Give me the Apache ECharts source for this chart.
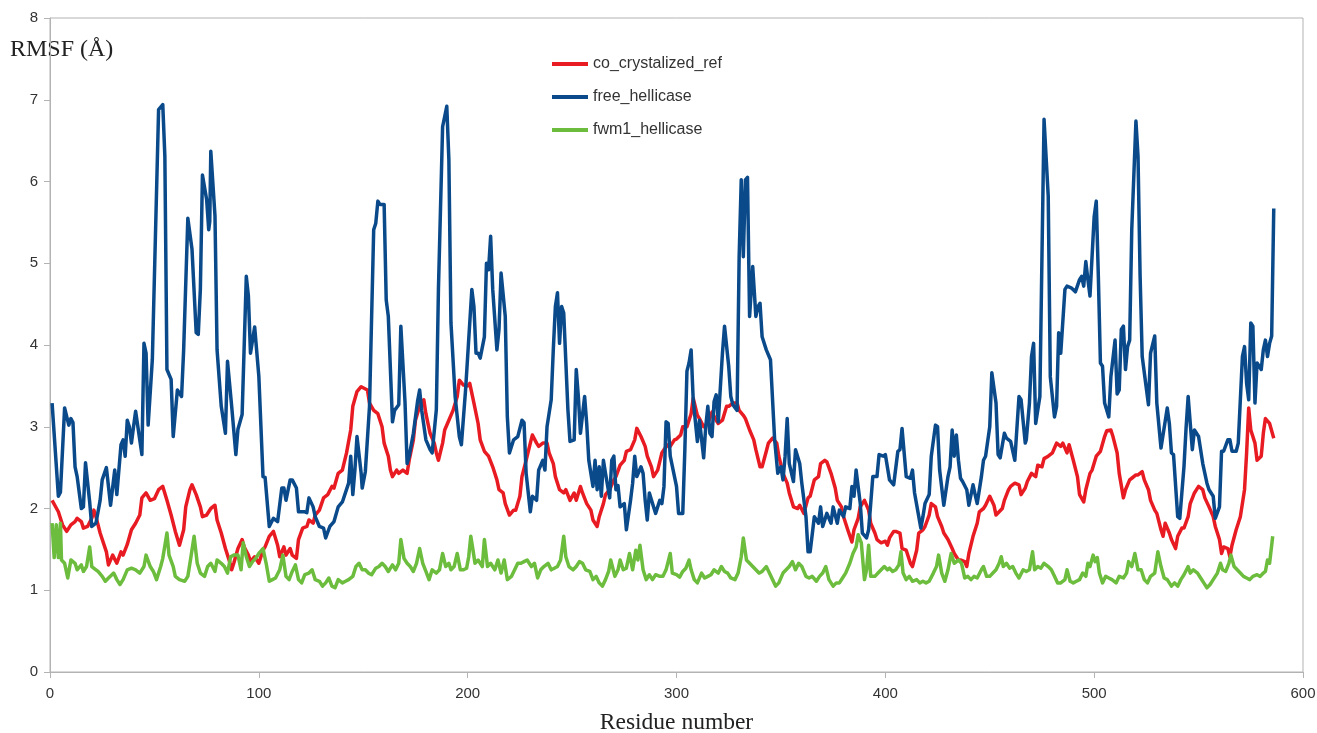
<!DOCTYPE html>
<html>
<head>
<meta charset="utf-8">
<title>RMSF per residue</title>
<script src="https://cdn.jsdelivr.net/npm/echarts@6/dist/echarts.min.js"></script>
<style>
  html, body { margin: 0; padding: 0; background: #fff; }
  #chart { width: 1317px; height: 733px; }
</style>
</head>
<body>
<div id="chart"></div>
<script>
// residue number vs RMSF (Å)
const seriesNames = ['co_crystalized_ref', 'free_hellicase', 'fwm1_hellicase'];
const xTicks = [0, 100, 200, 300, 400, 500, 600];
const yTicks = [0, 1, 2, 3, 4, 5, 6, 7, 8];

const coCrystalizedRef = [
  [1,2.1],[4,1.96],[6,1.8],[8,1.72],[10,1.8],[12,1.84],[13,1.88],[15,1.84],[16,1.76],[18,1.78],[20,1.88],[21,1.98],[22,1.9],[24,1.7],[27,1.47],[28,1.31],[30,1.43],[32,1.33],[34,1.47],[35,1.43],[37,1.56],[39,1.74],[41,1.82],[43,1.92],[44,2.13],[46,2.19],[48,2.1],[50,2.12],[52,2.23],[54,2.27],[56,2.1],[58,1.92],[60,1.72],[62,1.55],[64,1.74],[65,2.02],[67,2.23],[68,2.29],[70,2.17],[72,2.02],[73,1.9],[75,1.92],[77,2.0],[79,2.04],[80,1.86],[82,1.7],[84,1.51],[86,1.35],[87,1.25],[88,1.33],[90,1.51],[92,1.62],[93,1.53],[95,1.43],[96,1.35],[98,1.41],[100,1.33],
  [102,1.49],[103,1.53],[105,1.66],[107,1.72],[109,1.55],[110,1.41],[112,1.53],[113,1.43],[115,1.51],[116,1.43],[118,1.39],[119,1.62],[121,1.76],[123,1.78],[124,1.86],[126,1.82],[127,1.92],[129,1.98],[131,2.13],[133,2.17],[135,2.27],[136,2.25],[138,2.43],[140,2.47],[142,2.68],[144,2.96],[145,3.25],[147,3.43],[149,3.49],[152,3.45],[153,3.29],[155,3.2],[157,3.16],[159,3.0],[160,2.8],[162,2.64],[163,2.47],[164,2.39],[166,2.47],[167,2.43],[169,2.47],[171,2.43],[172,2.59],[174,2.84],[175,3.08],[177,3.25],[179,3.33],[180,3.16],[182,2.92],[184,2.8],[185,2.68],[186,2.59],[188,2.8],[189,2.96],[191,3.08],[193,3.2],[195,3.37],[196,3.57],[198,3.51],[200,3.5],
  [201,3.53],[203,3.29],[205,3.04],[206,2.84],[208,2.7],[210,2.64],[212,2.51],[214,2.35],[215,2.23],[217,2.19],[218,2.06],[220,1.92],[222,1.98],[223,1.98],[225,2.15],[226,2.39],[228,2.59],[230,2.8],[231,2.9],[233,2.8],[234,2.76],[236,2.8],[238,2.8],[239,2.68],[241,2.55],[242,2.39],[244,2.23],[246,2.19],[247,2.23],[249,2.1],[251,2.19],[252,2.1],[254,2.27],[255,2.19],[257,2.06],[259,1.98],[260,1.86],[262,1.78],[263,1.9],[265,2.06],[266,2.17],[268,2.23],[270,2.35],[271,2.39],[273,2.53],[275,2.59],[276,2.7],[278,2.72],[280,2.84],[281,2.98],[283,2.88],[285,2.76],[286,2.64],[288,2.51],[289,2.39],[291,2.47],[293,2.68],[294,2.72],[296,2.78],[297,2.76],[299,2.84],[300,2.85],
  [302,2.9],[303,3.0],[305,3.0],[307,3.16],[308,3.35],[310,3.14],[311,3.1],[313,3.0],[315,3.04],[317,3.18],[319,3.08],[320,3.04],[322,3.08],[324,3.25],[325,3.25],[327,3.29],[329,3.29],[330,3.2],[332,3.14],[333,3.1],[335,2.96],[337,2.84],[338,2.72],[340,2.51],[341,2.51],[343,2.7],[344,2.8],[346,2.86],[348,2.8],[349,2.64],[351,2.43],[353,2.31],[354,2.19],[356,2.02],[358,2.0],[359,2.04],[361,1.94],[363,2.13],[364,2.15],[366,2.35],[368,2.39],[369,2.55],[371,2.59],[372,2.57],[374,2.43],[376,2.25],[377,2.1],[379,2.02],[380,1.9],[382,1.74],[384,1.59],[385,1.74],[387,1.88],[388,2.02],[390,2.1],[392,1.98],[393,1.82],[395,1.7],[396,1.62],[398,1.58],[400,1.6],
  [401,1.55],[402,1.64],[404,1.72],[405,1.72],[407,1.7],[408,1.51],[410,1.49],[412,1.33],[413,1.29],[415,1.49],[416,1.7],[418,1.74],[419,1.78],[421,1.92],[422,2.06],[424,2.02],[425,1.9],[427,1.78],[428,1.7],[430,1.62],[432,1.51],[433,1.45],[435,1.37],[436,1.37],[438,1.35],[439,1.29],[440,1.45],[442,1.66],[444,1.82],[445,1.96],[447,2.0],[448,2.04],[450,2.15],[452,2.04],[453,1.92],[456,2.0],[457,2.1],[459,2.23],[460,2.27],[462,2.31],[464,2.29],[465,2.17],[467,2.25],[468,2.33],[470,2.43],[472,2.39],[473,2.53],[475,2.51],[476,2.61],[478,2.64],[480,2.68],[481,2.74],[482,2.8],[484,2.76],[485,2.8],[487,2.68],[488,2.78],[490,2.59],[492,2.39],[493,2.17],[495,2.08],[496,2.23],[498,2.43],[499,2.47],
  [501,2.64],[503,2.7],[505,2.88],[506,2.95],[508,2.96],[509,2.88],[511,2.68],[512,2.43],[514,2.13],[515,2.23],[517,2.35],[518,2.37],[520,2.41],[521,2.41],[523,2.45],[524,2.35],[526,2.23],[527,2.1],[529,1.98],[530,1.94],[532,1.74],[533,1.66],[534,1.82],[536,1.7],[537,1.62],[539,1.51],[540,1.66],[542,1.76],[543,1.76],[545,1.9],[546,2.06],[548,2.19],[550,2.27],[552,2.23],[553,2.13],[555,2.02],[557,1.9],[558,1.78],[560,1.62],[561,1.45],[562,1.53],[564,1.51],[565,1.41],[566,1.55],[568,1.74],[570,1.9],[572,2.23],[573,2.68],[574,3.23],[575,2.96],[577,2.8],[578,2.59],[580,2.64],[581,2.92],[582,3.1],[584,3.04],[586,2.86]
];

const freeHellicase = [
  [1,3.29],[4,2.15],[5,2.2],[7,3.23],[9,3.02],[10,3.1],[11,3.05],[12,2.51],[13,2.39],[15,2.0],[16,2.02],[17,2.56],[19,2.08],[20,1.78],[22,1.82],[24,2.1],[25,2.35],[27,2.5],[29,2.04],[31,2.47],[32,2.17],[34,2.78],[35,2.84],[36,2.64],[37,3.08],[38,3.0],[39,2.8],[40,3.0],[41,3.19],[44,2.66],[45,4.02],[46,3.9],[47,3.02],[49,3.82],[52,6.88],[54,6.94],[55,6.31],[56,3.7],[58,3.58],[59,2.88],[61,3.45],[63,3.37],[64,3.94],[66,5.55],[68,5.17],[70,4.15],[71,4.13],[72,4.68],[73,6.08],[75,5.78],[76,5.41],[76.5,5.51],[77,6.37],[79,5.58],[80,3.94],[82,3.25],[84,2.92],[85,3.8],[87,3.25],[89,2.66],[90,2.97],[92,3.15],[94,4.84],[95,4.6],[96,3.9],[98,4.22],[100,3.62],
  [102,2.39],[103,2.38],[105,1.78],[107,1.88],[109,1.84],[111,2.25],[112,2.25],[113,2.1],[115,2.35],[116,2.35],[118,2.25],[119,1.96],[122,1.96],[123,1.95],[124,2.13],[126,2.02],[127,1.9],[129,1.78],[131,1.76],[132,1.64],[134,1.78],[136,1.84],[138,2.02],[140,2.08],[143,2.31],[144,2.64],[145,2.17],[146,2.47],[147,2.88],[149,2.43],[149.5,2.25],[151,2.45],[153,3.25],[155,5.41],[156,5.49],[157,5.76],[158,5.72],[160,5.72],[161,4.55],[162,4.35],[164,3.06],[165,3.2],[167,3.27],[168,4.23],[170,3.3],[171,2.55],[172,2.64],[174,2.92],[176,3.31],[177,3.45],[178,3.2],[180,2.84],[182,2.72],[183,2.68],[185,3.21],[186,4.68],[188,6.67],[190,6.92],[191,6.27],[192,4.27],[194,3.37],[196,2.88],[197,2.78],[199,3.45],
  [202,4.68],[203,4.47],[204,3.9],[205,3.9],[206,3.84],[208,4.1],[209,5.0],[210,4.92],[211,5.33],[212,4.68],[214,3.94],[215,4.19],[216,4.88],[218,4.35],[219,3.12],[220,2.68],[222,2.84],[224,2.88],[226,3.08],[227,3.05],[228,2.43],[230,1.96],[231,2.15],[233,2.1],[234,2.47],[236,2.59],[237,2.47],[238,3.0],[240,3.33],[241,3.94],[242,4.47],[243,4.64],[244,4.02],[245,4.47],[246,4.39],[248,3.21],[249,2.82],[251,2.84],[252,3.7],[253,3.37],[254,2.92],[256,3.37],[257,3.04],[258,2.59],[260,2.27],[261,2.59],[262,2.23],[263,2.51],[264,2.15],[265,2.59],[266,2.43],[268,2.13],[269,2.59],[270,2.64],[271,2.23],[272,2.28],[273,2.02],[275,2.06],[276,1.74],[278,2.1],[279,2.31],[280,2.64],[281,2.39],[283,2.51],[284,2.43],[285,2.1],[286,1.86],[287,2.19],[289,2.02],[290,1.94],[292,2.1],[293,2.06],[294,2.27],[295,3.06],[296,3.04],[297,2.64],[300,2.27],
  [301,1.94],[303,1.94],[304,2.72],[305,3.68],[306,3.78],[307,3.94],[308,3.33],[310,2.82],[311,3.08],[313,2.62],[314,3.0],[315,3.25],[316,2.92],[317,2.88],[318,3.31],[319,3.39],[320,3.06],[322,3.9],[323,4.23],[325,3.74],[326,3.37],[327,3.27],[329,3.2],[330,5.08],[331,6.02],[332,5.08],[333,6.02],[334,6.05],[335,4.35],[336.5,4.96],[338,4.35],[339,4.47],[340,4.51],[341,4.1],[343,3.94],[345,3.82],[347,2.84],[348.5,2.43],[350,2.51],[351,2.35],[352,2.64],[353,3.1],[354,2.55],[356,2.33],[357,2.72],[359,2.55],[360,2.31],[362,1.9],[363,1.47],[364,1.47],[366,1.9],[368,1.82],[369,2.02],[370,1.78],[372,1.94],[374,1.82],[375,2.02],[377,1.82],[378,1.98],[380,1.9],[381,2.02],[383,2.0],[384,2.27],[385,2.15],[386,2.47],[388,2.06],[389,1.7],[391,1.64],[392,1.74],[393,2.06],[394,2.39],[396,2.39],[397,2.66],[399,2.64],[400,2.66],
  [402,2.35],[404,2.29],[406,2.7],[407,2.72],[408,2.98],[410,2.39],[412,2.37],[413,2.47],[414,2.19],[417,1.76],[418,1.9],[419,2.06],[421,2.17],[422,2.64],[424,3.02],[425,3.0],[426,2.47],[428,2.04],[430,2.39],[431,2.51],[432,2.96],[433,2.64],[434,2.9],[435,2.59],[436,2.37],[437,2.33],[439,2.23],[440,2.04],[442,2.29],[443,2.17],[444,2.06],[446,2.39],[447,2.59],[448,2.64],[450,3.0],[451,3.66],[453,3.29],[454,2.66],[455,2.62],[457,2.92],[458,2.86],[460,2.82],[462,2.59],[464,3.37],[465,3.33],[467,2.8],[467.5,2.84],[469,3.29],[470,3.86],[471,4.02],[472,3.04],[474,3.37],[475,5.08],[476,6.76],[478,5.82],[479,3.61],[481,3.12],[482,3.25],[483,4.15],[484,3.9],[486,4.68],[487,4.72],[489,4.7],[491,4.65],[493,4.8],[494,4.84],[495,4.72],[496,5.02],[497,4.8],[498,4.6],[500,5.57],
  [501,5.76],[502,4.84],[503,3.78],[504,3.74],[505,3.29],[507,3.12],[508,3.61],[510,4.06],[511,3.4],[512,3.45],[513,4.19],[514,4.23],[515,3.7],[516,3.98],[517,4.06],[518,5.41],[520,6.74],[521,6.31],[522,4.84],[523,3.86],[526,3.27],[527,3.9],[529,4.11],[530,3.29],[532,2.74],[535,3.23],[536,3.04],[537,2.68],[538,2.66],[540,1.9],[541,1.88],[543,2.51],[544,2.98],[545,3.37],[547,2.72],[548,2.96],[550,2.88],[552,2.55],[554,2.31],[555,2.23],[557,2.15],[558,1.88],[560,2.02],[561,2.7],[562,2.7],[564,2.84],[565,2.84],[566,2.7],[568,2.7],[569,2.8],[571,3.86],[572,3.98],[573,3.53],[574,3.33],[575,4.27],[576,4.23],[577,3.29],[578,3.78],[580,3.7],[581,3.94],[582,4.06],[583,3.86],[584,4.02],[585,4.11],[586,5.67]
];

const fwm1Hellicase = [
  [1,1.82],[2,1.4],[3,1.8],[4,1.4],[5,1.82],[5.5,1.37],[7,1.33],[8.5,1.15],[10,1.37],[12,1.33],[13,1.25],[15,1.31],[16,1.23],[17.5,1.29],[19,1.53],[20,1.29],[22,1.25],[23,1.23],[25,1.17],[26.5,1.11],[28,1.15],[30.5,1.21],[32,1.13],[33.5,1.07],[35,1.13],[37,1.25],[39,1.27],[41,1.25],[43,1.21],[45,1.29],[46,1.43],[48,1.29],[49.5,1.23],[51,1.13],[53,1.29],[54,1.39],[56,1.7],[57,1.43],[59,1.29],[60,1.17],[62,1.13],[64.5,1.11],[66,1.17],[67.5,1.41],[69,1.66],[70.5,1.33],[72,1.21],[74,1.17],[75.5,1.29],[77,1.33],[79,1.23],[80,1.37],[82,1.33],[83.5,1.29],[85,1.21],[86.5,1.41],[88,1.43],[90,1.43],[91.5,1.25],[92.5,1.58],[94,1.41],[95.5,1.29],[97,1.35],[98.5,1.39],[100,1.45],
  [102,1.51],[103.5,1.33],[105,1.11],[106.5,1.13],[108,1.15],[110,1.25],[111.5,1.43],[113,1.17],[114.5,1.13],[116,1.23],[117.5,1.31],[119,1.13],[120.5,1.09],[122,1.19],[124,1.21],[125.5,1.25],[127,1.13],[129,1.11],[130.5,1.05],[132,1.09],[133.5,1.15],[135,1.05],[136.5,1.03],[138,1.13],[140,1.09],[141.5,1.11],[143,1.13],[145,1.17],[146.5,1.29],[148,1.33],[149.5,1.25],[151,1.25],[152.5,1.21],[154,1.19],[156,1.27],[157.5,1.29],[159,1.33],[160.5,1.29],[162,1.23],[164,1.31],[165.5,1.25],[167,1.33],[168,1.62],[169.5,1.39],[171,1.33],[172.5,1.29],[174,1.23],[175.5,1.33],[177,1.51],[178.5,1.33],[180,1.23],[181.5,1.13],[183,1.25],[185,1.21],[186.5,1.25],[188,1.45],[189.5,1.29],[191,1.33],[192,1.25],[193.5,1.29],[195,1.45],[196.5,1.25],[198,1.25],[199.5,1.27],[200.5,1.41],
  [201.5,1.66],[202.5,1.5],[203.5,1.33],[205,1.37],[207,1.29],[208,1.62],[209.5,1.29],[211,1.33],[213,1.25],[214.5,1.37],[216,1.21],[217.5,1.37],[219,1.13],[221,1.17],[222.5,1.25],[224,1.33],[225.5,1.33],[227,1.35],[228.5,1.37],[230.5,1.29],[232,1.33],[233.5,1.15],[235,1.25],[236.5,1.29],[238.5,1.33],[240,1.25],[241.5,1.27],[243,1.29],[244.5,1.37],[246,1.66],[247,1.41],[248.5,1.29],[250.5,1.25],[252,1.29],[253.5,1.35],[255,1.33],[256.5,1.25],[258.5,1.23],[260,1.13],[261.5,1.17],[263,1.09],[264.5,1.05],[266,1.13],[267.5,1.23],[268.5,1.37],[270.5,1.17],[272,1.25],[273,1.37],[274.5,1.25],[276,1.27],[277.5,1.45],[279,1.25],[280.5,1.49],[281.5,1.37],[282.5,1.55],[284,1.25],[285.5,1.13],[287,1.19],[288.5,1.13],[290,1.19],[292,1.17],[293.5,1.17],[295,1.25],[297,1.45],[298,1.21],[300,1.19],
  [301.5,1.16],[303,1.23],[304.5,1.27],[306,1.37],[307,1.25],[308.5,1.13],[310,1.09],[312,1.21],[313.5,1.15],[315,1.17],[316.5,1.19],[318,1.25],[320,1.21],[321.5,1.29],[323,1.23],[324.5,1.21],[326,1.15],[328,1.13],[329.5,1.21],[331,1.41],[332,1.64],[333.5,1.37],[335,1.33],[336.5,1.29],[338,1.25],[339.5,1.21],[341,1.23],[343,1.29],[344.5,1.21],[346,1.13],[347.5,1.05],[349,1.09],[351,1.21],[352.5,1.25],[354,1.29],[355.5,1.35],[357,1.25],[358.5,1.33],[360,1.29],[362,1.17],[363.5,1.15],[365,1.17],[367,1.11],[368.5,1.17],[370,1.21],[371.5,1.29],[373,1.13],[375,1.05],[376.5,1.09],[378,1.09],[379.5,1.15],[381,1.21],[383,1.33],[384.5,1.45],[386,1.53],[387,1.68],[388.5,1.58],[390,1.13],[391,1.25],[392,1.55],[393,1.17],[395,1.17],[396.5,1.21],[398,1.25],[399.5,1.29],
  [401,1.25],[402,1.27],[403.5,1.23],[405,1.25],[406.5,1.31],[407.5,1.47],[408.5,1.21],[410,1.13],[411.5,1.17],[413,1.11],[415,1.13],[416.5,1.09],[418,1.11],[419.5,1.09],[421,1.11],[423,1.21],[424.5,1.29],[425.5,1.43],[427,1.21],[428.5,1.11],[430,1.25],[431.5,1.45],[433,1.33],[435,1.37],[436.5,1.33],[438,1.15],[439.5,1.17],[441,1.13],[442.5,1.17],[444,1.15],[446,1.25],[447,1.29],[448.5,1.17],[450,1.17],[451.5,1.21],[453,1.25],[454.5,1.33],[455.5,1.41],[456.5,1.29],[458,1.33],[459.5,1.27],[461,1.29],[462.5,1.21],[464,1.15],[466,1.25],[467.5,1.23],[469,1.25],[470.5,1.47],[471.5,1.25],[473,1.29],[474.5,1.27],[476,1.33],[478,1.29],[479.5,1.25],[481,1.17],[482.5,1.09],[484,1.09],[486,1.13],[487,1.25],[488.5,1.11],[490,1.09],[491.5,1.11],[493,1.13],[494.5,1.21],[496,1.17],[497,1.33],[498,1.29],[499.5,1.43],[500.5,1.35],
  [501.5,1.4],[502.5,1.21],[504,1.09],[505.5,1.17],[507,1.15],[508.5,1.13],[510.5,1.09],[512,1.17],[514,1.15],[515.5,1.21],[516.5,1.35],[518,1.29],[519.5,1.45],[521,1.25],[522.5,1.25],[524,1.13],[525.5,1.09],[527,1.17],[529,1.21],[530.5,1.47],[532,1.29],[533.5,1.15],[535,1.13],[537,1.05],[538.5,1.09],[540,1.05],[541.5,1.13],[543,1.19],[545,1.29],[546,1.21],[547.5,1.25],[549.5,1.21],[551,1.15],[552.5,1.09],[554,1.03],[555.5,1.07],[557,1.13],[559,1.21],[560.5,1.33],[561.5,1.25],[563,1.23],[564.5,1.33],[565.5,1.43],[567,1.29],[568.5,1.25],[570,1.21],[571.5,1.17],[573,1.15],[574.5,1.13],[576,1.17],[578,1.19],[579.5,1.17],[581,1.21],[582,1.23],[583,1.37],[584,1.33],[585.5,1.66]
];

const colors = ['#e81b23', '#0a4a8a', '#6cbd3d'];
const axisGray = '#b3b3b3';
const labelColor = '#333333';

const chart = echarts.init(document.getElementById('chart'));

const option = {
  animation: false,
  backgroundColor: '#ffffff',
  grid: {
    left: 50,
    right: 14,
    top: 18,
    bottom: 61,
    outerBoundsMode: 'none',
    show: true,
    borderColor: axisGray,
    borderWidth: 1,
  },
  legend: {
    orient: 'vertical',
    left: 547,
    top: 51,
    itemGap: 17,
    itemWidth: 36,
    itemHeight: 4,
    icon: 'rect',
    data: seriesNames,
    textStyle: {
      fontFamily: 'Liberation Sans, Arial, sans-serif',
      fontSize: 16,
      color: labelColor,
    },
  },
  graphic: [
    {
      type: 'text',
      left: 10,
      top: 38,
      style: {
        text: 'RMSF (Å)',
        font: '24px "Liberation Serif", "Times New Roman", serif',
        fill: '#222222',
      },
    },
  ],
  xAxis: {
    type: 'value',
    min: xTicks[0],
    max: xTicks[xTicks.length - 1],
    interval: 100,
    name: 'Residue number',
    nameLocation: 'middle',
    nameGap: 39,
    nameTextStyle: {
      fontFamily: 'Liberation Serif, Times New Roman, serif',
      fontSize: 23.5,
      color: '#222222',
    },
    axisLine: { show: true, lineStyle: { color: axisGray, width: 1 } },
    axisTick: { show: true, length: 6, lineStyle: { color: axisGray } },
    axisLabel: {
      margin: 14,
      fontFamily: 'Liberation Sans, Arial, sans-serif',
      fontSize: 15,
      color: labelColor,
    },
    splitLine: { show: false },
  },
  yAxis: {
    type: 'value',
    min: yTicks[0],
    max: yTicks[yTicks.length - 1],
    interval: 1,
    axisLine: { show: true, lineStyle: { color: axisGray, width: 1 } },
    axisTick: { show: true, length: 6, lineStyle: { color: axisGray } },
    axisLabel: {
      margin: 12,
      fontFamily: 'Liberation Sans, Arial, sans-serif',
      fontSize: 15,
      color: labelColor,
    },
    splitLine: { show: false },
  },
  series: [
    { name: seriesNames[0], data: coCrystalizedRef },
    { name: seriesNames[1], data: freeHellicase },
    { name: seriesNames[2], data: fwm1Hellicase },
  ].map((s, i) => ({
    ...s,
    type: 'line',
    showSymbol: false,
    symbol: 'none',
    smooth: false,
    color: colors[i],
    lineStyle: { color: colors[i], width: 3.5, join: 'round' },
  })),
};

chart.setOption(option);
</script>
</body>
</html>
